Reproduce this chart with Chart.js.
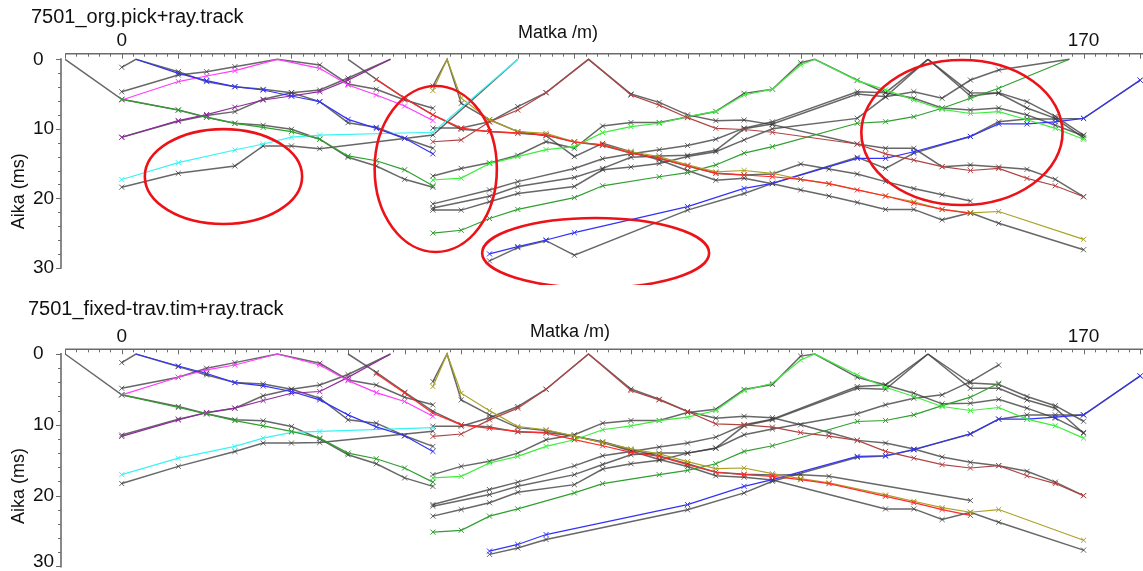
<!DOCTYPE html>
<html>
<head>
<meta charset="utf-8">
<script src="https://cdn.jsdelivr.net/npm/chart.js@4.4.1/dist/chart.umd.min.js"></script>
<style>
  html, body { margin: 0; padding: 0; background: #ffffff; }
  #wrap { position: relative; width: 1143px; height: 571px; overflow: hidden; background: #ffffff; }
  canvas { position: absolute; left: 0; }
  #cTop { top: 0; }
  #cBot { top: 285px; }
</style>
</head>
<body>
<div id="wrap">
  <canvas id="cTop" width="1143" height="285"></canvas>
  <canvas id="cBot" width="1143" height="286"></canvas>
</div>
<script>
// ---- axis labels ----
const distTickLabels = [0, 170];
const timeTickLabels = [0, 10, 20, 30];
const panelTitles = ['7501_org.pick+ray.track', '7501_fixed-trav.tim+ray.track'];
const distTitle = 'Matka /m)';
const timeTitle = 'Aika (ms)';

// ---- travel times, original picks [distance m, time ms] ----
const orgM10Pick = [[0,5.76],[10,7.3],[15,8.35],[20,9.21],[25,9.8],[30,10.4],[35,11.5],[40,13.9],[45,14.6],[50,15.9],[55,18.2]];
const orgM10Calc = [[-10,0],[0,5.76],[10,7.3],[15,8.35],[20,9.21],[25,9.5],[30,10.08],[35,11.5],[40,14.1],[45,15.35],[50,17.27],[55,18.4]];
const org2Pick = [[2.5,0],[10,2.02],[15,3.07],[20,3.94],[25,4.42],[30,5.28],[35,6.1],[40,8.64],[45,9.93],[50,11.37],[55,13.6]];
const org2Calc = [[0,1.15],[2.5,0],[10,1.78],[15,3.22],[20,3.94],[25,4.32],[30,4.8],[35,6.1],[40,9.12],[45,9.79],[50,11.37],[55,12.8]];
const org27Pick = [[0,5.86],[10,3.2],[15,2.4],[20,1.64],[27.5,0],[35,1.3],[40,3.7],[45,5.14],[50,6.72],[55,8.8]];
const org27Calc = [[0,4.66],[10,2.26],[15,1.78],[20,1.06],[27.5,0],[35,0.82],[40,3.55],[45,4.32],[50,5.86],[55,7.05]];
const org47Pick = [[0,11.22],[10,8.83],[15,7.95],[20,6.9],[25,5.86],[30,5.28],[35,4.66],[40,3.0],[47.5,0]];
const org47Calc = [[0,11.22],[10,8.9],[15,8.1],[20,7.53],[25,5.76],[30,4.8],[35,4.42],[40,2.7],[47.5,0]];
const org70Pick = [[0,17.3],[10,14.87],[20,13.05],[25,12.19],[30,11.2],[35,10.9],[55,10.5],[70,0]];
const org70Calc = [[0,18.4],[10,16.4],[20,15.35],[25,12.47],[30,12.47],[35,12.86],[55,10.9],[70,0]];
const org40Pick = [[45,2.9],[50,5.6],[55,8.0],[60,9.9],[65,10.4],[70,10.6],[75,10.9],[80,11.9],[85,12.3],[90,13.5],[95,14.25],[100,15.35],[105,16.4],[110,16.65],[115,16.9],[120,17.27],[125,17.9],[130,18.8],[135,19.67],[140,20.7],[145,21.6],[150,22.16]];
const org40Calc = [[40,0],[45,2.9],[50,5.6],[55,8.0],[60,10.08],[65,10.4],[70,10.65],[75,10.9],[80,11.9],[85,12.4],[90,13.5],[95,14.25],[100,15.35],[105,16.4],[110,16.65],[115,16.5],[120,15.07],[125,15.8],[130,16.5],[135,17.6],[140,18.6],[145,19.5],[150,20.4]];
const org57Pick = [[55,4.5],[57.5,0],[60,5.6],[65,8.7],[70,10.4],[75,10.65],[80,11.86],[85,12.3],[90,13.3],[95,14.0],[100,15.2],[105,16.2],[110,16.0],[115,16.4],[120,17.27],[125,17.9],[135,19.67],[140,20.5],[145,21.6],[150,22.1],[155,21.9],[170,25.9]];
const org57Calc = [[55,3.84],[57.5,0],[60,6.34],[65,8.7],[70,10.4],[75,11.0],[80,14.0],[85,12.1],[90,13.3],[95,14.5],[100,16.0],[105,17.4],[110,17.1],[115,17.9],[120,18.8],[125,19.67],[130,20.6],[135,21.6],[140,21.6],[145,23.1],[150,22.1],[155,23.6],[170,27.4]];
const org82Pick = [[55,11.86],[60,11.6],[65,9.0],[70,7.3],[75,4.8],[82.5,0],[90,5.14],[95,6.6],[100,8.4],[105,9.93],[110,10.1],[115,10.5],[130,12.19],[135,13.6],[140,14.5],[145,15.45],[150,16.0],[155,15.7],[160,17.13],[165,18.2],[170,19.77]];
const org82Calc = [[55,9.9],[60,9.9],[65,9.0],[70,6.8],[75,4.8],[82.5,0],[90,5.0],[95,6.2],[100,8.0],[105,8.83],[110,8.73],[115,9.4],[130,12.19],[135,12.81],[140,12.81],[145,15.45],[150,15.2],[155,15.5],[160,15.83],[165,17.27],[170,19.77]];
const org122Pick = [[55,17.37],[60,17.1],[65,15.0],[70,14.0],[75,13.0],[80,12.57],[85,10.55],[90,9.7],[95,9.2],[100,8.25],[105,7.5],[110,5.13],[115,4.3],[120,0.82],[122.5,0],[130,3.07],[135,4.4],[140,5.86],[145,7.2],[150,7.8],[155,7.53],[160,8.7],[165,9.93],[170,11.5]];
const org122Calc = [[55,16.8],[60,15.7],[65,14.9],[70,13.8],[75,11.85],[80,12.8],[85,9.6],[90,9.1],[95,9.1],[100,8.3],[105,7.5],[110,4.9],[115,4.3],[120,0.5],[122.5,0],[130,3.0],[135,4.8],[140,5.6],[145,7.0],[150,7.3],[155,7.0],[160,8.0],[165,9.5],[170,11.0]];
const org167Pick = [[55,25.0],[60,24.6],[65,22.9],[70,21.6],[80,19.9],[85,18.2],[95,16.9],[100,16.3],[105,15.2],[110,13.5],[115,12.57],[130,9.2],[135,8.98],[140,8.26],[145,7.05],[150,5.6],[155,4.17],[167.5,0]];
const org167Calc = [[55,21.7],[60,21.7],[65,20.5],[70,19.3],[80,18.3],[85,15.9],[90,15.5],[95,15.0],[100,14.0],[105,13.3],[110,11.6],[115,10.0],[130,8.5],[135,5.4],[140,4.66],[145,5.6],[150,2.98],[155,1.54],[167.5,0]];
const org142LeftA = [[55,20.8],[65,18.8],[70,17.6],[80,15.7],[85,14.3],[90,13.6],[95,13.0],[100,12.4],[105,11.5],[110,9.9],[115,9.0],[130,4.66],[135,4.8],[142.5,0]];
const org142LeftB = [[55,21.4],[65,19.7],[70,18.3],[80,17.0],[85,15.7],[90,14.1],[95,13.9],[100,13.8],[105,13.1],[110,10.0],[115,9.3],[130,5.0],[135,5.4],[142.5,0]];
const org142RightA = [[142.5,0],[150,5.28],[155,4.8],[160,6.1],[165,8.2],[170,10.9]];
const org142RightB = [[142.5,0],[150,4.8],[155,4.9],[160,7.0],[165,8.5],[170,11.3]];
const org190Pick = [[65,28.0],[70,26.95],[75,26.0],[80,24.95],[100,21.2],[110,18.57],[115,17.85],[130,14.25],[135,14.25],[140,13.3],[150,11.1],[155,9.3],[160,9.3],[165,9.0],[170,8.5],[180,3.0]];
const org190Calc = [[65,29.0],[70,27.1],[75,26.1],[80,28.2],[100,21.7],[110,19.3],[115,17.85],[130,14.1],[135,15.7],[140,13.5],[150,11.1],[155,9.0],[160,8.6],[165,8.6],[170,8.5],[180,3.0]];

// ---- travel times, corrected picks [distance m, time ms] ----
const fixM10Pick = [[0,5.77],[10,7.56],[15,8.45],[20,9.4],[25,10.14],[30,10.94],[35,11.88],[40,14.0],[45,14.8],[50,16.1],[55,18.1]];
const fixM10Calc = [[-10,0],[0,5.77],[10,7.42],[15,8.45],[20,9.3],[25,9.44],[30,10.23],[35,12.0],[40,14.23],[45,15.5],[50,17.5],[55,18.7]];
const fix2Pick = [[2.5,0],[10,1.7],[15,2.75],[20,4.04],[25,4.5],[30,5.3],[35,6.48],[40,8.6],[45,10.3],[50,11.55],[55,13.76]];
const fix2Calc = [[0,1.22],[2.5,0],[10,1.78],[15,2.96],[20,4.04],[25,4.23],[30,4.98],[35,6.24],[40,9.3],[45,9.77],[50,11.55],[55,13.05]];
const fix27Pick = [[0,5.77],[10,3.29],[15,2.25],[20,1.55],[27.5,0],[35,1.55],[40,3.76],[45,5.45],[50,6.71],[55,8.8]];
const fix27Calc = [[0,4.84],[10,3.29],[15,2.02],[20,1.22],[27.5,0],[35,1.31],[40,3.66],[45,4.37],[50,6.1],[55,7.18]];
const fix47Pick = [[0,11.64],[10,9.3],[15,8.26],[20,7.65],[25,6.57],[30,5.54],[35,5.3],[40,3.3],[47.5,0]];
const fix47Calc = [[0,11.45],[10,9.2],[15,8.3],[20,7.65],[25,5.9],[30,4.98],[35,4.37],[40,2.9],[47.5,0]];
const fix70Pick = [[0,17.04],[10,14.7],[20,13.05],[25,11.88],[30,11.07],[35,10.94],[55,10.4]];
const fix70Calc = [[0,18.3],[10,15.87],[20,13.76],[25,12.58],[30,12.58],[35,12.5],[55,10.9]];
const fix40Pick = [[45,2.8],[50,5.5],[55,8.36],[60,10.0],[65,10.5],[70,10.94],[75,11.17],[80,12.1],[85,12.96],[90,13.9],[95,14.46],[100,15.63],[105,16.7],[110,17.04],[115,17.28],[120,17.75],[125,18.3],[135,20.1],[140,21.0],[145,21.97],[150,22.8]];
const fix40Calc = [[40,0],[45,2.6],[50,5.4],[55,8.1],[60,10.0],[65,10.3],[70,11.0],[75,11.1],[80,11.6],[85,12.4],[90,13.5],[95,14.4],[100,15.5],[105,16.7],[110,17.0],[115,17.1],[120,17.04],[125,17.28],[150,20.7]];
const fix57Pick = [[55,4.6],[57.5,0],[60,5.54],[65,8.0],[70,10.24],[75,10.7],[80,11.6],[85,12.5],[90,13.4],[95,14.1],[100,15.2],[105,16.2],[110,16.1],[115,16.9],[120,17.6],[125,18.2],[135,19.9],[140,20.8],[145,21.7],[150,22.35],[155,21.97],[170,26.3]];
const fix57Calc = [[55,3.9],[57.5,0],[60,6.48],[65,8.6],[70,10.4],[75,10.8],[80,11.6],[85,12.5],[90,13.7],[95,14.9],[100,15.9],[105,17.2],[110,17.4],[115,17.8],[135,21.88],[140,21.88],[145,23.38],[150,22.35],[155,23.76],[170,27.7]];
const fix82Pick = [[55,11.64],[60,11.3],[65,9.3],[70,7.65],[75,4.98],[82.5,0],[90,5.16],[95,6.48],[100,8.12],[105,9.86],[110,10.0],[115,10.33],[120,11.1],[125,11.6],[130,12.2],[135,13.76],[140,14.7],[145,15.63],[150,16.1],[155,15.77],[160,17.2],[165,18.3],[170,20.0]];
const fix82Calc = [[55,10.2],[60,10.2],[65,9.0],[70,7.42],[75,4.98],[82.5,0],[90,4.95],[95,6.4],[100,8.12],[105,9.06],[110,8.8],[115,9.0],[120,10.0],[125,11.1],[130,12.2],[135,12.58],[140,13.43],[145,14.55],[150,15.3],[155,15.77],[160,16.57],[165,18.1],[170,20.0]];
const fix122Pick = [[55,17.5],[60,17.28],[65,15.4],[70,14.46],[75,13.05],[80,12.11],[85,10.7],[90,10.14],[95,9.4],[100,8.92],[105,7.98],[110,5.16],[115,4.13],[120,0.85],[122.5,0],[130,2.96],[135,4.7],[140,6.0],[145,7.42],[150,7.98],[155,7.56],[160,9.2],[165,10.14],[170,11.88]];
const fix122Calc = [[55,17.04],[60,15.87],[65,15.16],[70,14.0],[75,12.11],[80,11.4],[85,9.77],[90,9.4],[95,9.4],[100,8.26],[105,7.8],[110,5.0],[115,4.3],[120,0.3],[122.5,0],[130,3.29],[135,4.37],[140,5.54],[145,7.04],[150,6.95],[155,6.4],[160,7.65],[165,9.06],[170,11.08]];
const fix167Pick = [[55,25.16],[60,24.9],[65,22.9],[70,21.88],[80,19.62],[85,18.3],[95,17.04],[100,16.43],[105,15.5],[110,13.76],[115,12.96],[130,9.53],[135,9.39],[140,8.6],[145,7.3],[150,6.1],[155,4.13]];
const fix167Calc = [[55,22.9],[60,21.97],[65,21.0],[70,19.53],[80,18.45],[85,16.24],[90,15.5],[95,15.0],[100,14.0],[105,13.3],[110,11.4],[115,10.6],[130,8.45],[135,7.18],[140,6.24],[145,5.77],[150,3.9],[155,1.55]];
const fix142LeftA = [[55,21.27],[65,19.15],[70,18.1],[80,15.8],[85,14.37],[90,13.76],[95,13.15],[100,12.58],[105,11.74],[110,10.0],[115,9.2],[130,4.6],[135,4.37],[142.5,0]];
const fix142LeftB = [[55,21.5],[65,19.86],[70,18.69],[80,17.04],[85,15.6],[90,14.23],[95,14.0],[100,14.0],[105,13.29],[110,10.14],[115,9.3],[130,4.84],[135,4.98],[142.5,0]];
const fix142RightA = [[142.5,0],[150,4.84],[155,4.84],[160,6.5],[165,7.65],[170,11.2]];
const fix142RightB = [[142.5,0],[150,4.1],[155,4.3],[160,6.0],[165,7.3],[170,9.5]];
const fix190Pick = [[65,27.84],[70,26.9],[75,25.5],[100,21.27],[110,18.69],[115,17.75],[130,14.46],[135,14.37],[140,13.52],[150,11.27],[155,9.2],[160,9.2],[165,8.92],[170,8.6],[180,3.1]];
const fix190Calc = [[65,28.3],[70,27.4],[75,26.2],[100,22.0],[110,19.62],[115,17.98],[130,14.6],[135,14.4],[140,13.5],[150,11.3],[155,9.2],[160,8.6],[165,8.6],[170,8.6],[180,3.1]];

// ---- line colours ----
const COLORS = {
  calc: 'rgba(60,60,60,0.78)',
  green: '#2f9f2f', lime: '#3ced3c', blue: '#3232f8', magenta: '#ff3cff',
  purple: '#8e2c9c', cyan: '#3cf2f2', red: '#ff2a2a', darkred: '#b04444', olive: '#aaa125'
};

const orgSeries = [
  [orgM10Pick, 'green'], [orgM10Calc, 'calc'], [org2Pick, 'blue'], [org2Calc, 'calc'],
  [org27Pick, 'magenta'], [org27Calc, 'calc'], [org47Pick, 'purple'], [org47Calc, 'calc'],
  [org70Pick, 'cyan'], [org70Calc, 'calc'], [org40Pick, 'red'], [org40Calc, 'calc'],
  [org57Pick, 'olive'], [org57Calc, 'calc'], [org82Pick, 'darkred'], [org82Calc, 'calc'],
  [org122Pick, 'lime'], [org122Calc, 'calc'], [org167Pick, 'green'], [org167Calc, 'calc'],
  [org142LeftA, 'calc'], [org142LeftB, 'calc'], [org142RightA, 'calc'], [org142RightB, 'calc'],
  [org190Pick, 'blue'], [org190Calc, 'calc']
];
const fixSeries = [
  [fixM10Pick, 'green'], [fixM10Calc, 'calc'], [fix2Pick, 'blue'], [fix2Calc, 'calc'],
  [fix27Pick, 'magenta'], [fix27Calc, 'calc'], [fix47Pick, 'purple'], [fix47Calc, 'calc'],
  [fix70Pick, 'cyan'], [fix70Calc, 'calc'], [fix40Pick, 'red'], [fix40Calc, 'calc'],
  [fix57Pick, 'olive'], [fix57Calc, 'calc'], [fix82Pick, 'darkred'], [fix82Calc, 'calc'],
  [fix122Pick, 'lime'], [fix122Calc, 'calc'], [fix167Pick, 'green'], [fix167Calc, 'calc'],
  [fix142LeftA, 'calc'], [fix142LeftB, 'calc'], [fix142RightA, 'calc'], [fix142RightB, 'calc'],
  [fix190Pick, 'blue'], [fix190Calc, 'calc']
];

// marked regions on the first panel: centre (m, ms) and half-axes (m, ms)
const orgMarks = [
  { cx: 17.98, cy: 16.87, rx: 13.9, ry: 6.83 },
  { cx: 55.5, cy: 15.78, rx: 10.8, ry: 11.94 },
  { cx: 83.76, cy: 27.87, rx: 20.06, ry: 5.04 },
  { cx: 148.5, cy: 10.53, rx: 17.78, ry: 10.43 }
];

const X_MIN = -10.735, X_MAX = 179.69;
const FONT = '"Liberation Sans", Arial, Helvetica, sans-serif';

function buildDatasets(series) {
  return series.map(([arr, kind]) => {
    const pick = kind !== 'calc';
    const color = COLORS[kind];
    return {
      data: arr.map(([x, y]) => ({ x, y })),
      showLine: true,
      borderColor: color,
      backgroundColor: color,
      borderWidth: pick ? 1.2 : 1.5,
      pointStyle: 'crossRot',
      pointRadius: c => (c.raw && c.raw.y === 0 ? 0 : 3.6),
      pointHoverRadius: 0,
      pointBorderColor: color,
      pointBorderWidth: 1,
      tension: 0,
      clip: false,
      order: pick ? 0 : 1
    };
  });
}

const framePlugin = {
  id: 'frame',
  beforeDatasetsDraw(chart, args, o) {
    const { ctx } = chart;
    const xs = chart.scales.x, ys = chart.scales.y;
    const a = chart.chartArea;
    ctx.save();
    ctx.fillStyle = '#111';
    ctx.textBaseline = 'middle';

    // panel title
    ctx.font = '20px ' + FONT;
    ctx.textAlign = 'left';
    ctx.fillText(o.title, o.titleX, o.titleY);

    // distance axis along the top
    const axisY = a.top - o.axisGap;
    ctx.strokeStyle = '#6b6b6b';
    ctx.lineWidth = 1.6;
    ctx.beginPath();
    ctx.moveTo(xs.getPixelForValue(-10), axisY);
    ctx.lineTo(chart.width, axisY);
    ctx.stroke();
    ctx.lineWidth = 1;
    for (let v = -10; v <= 180; v += 2) {
      const x = Math.round(xs.getPixelForValue(v)) + 0.5;
      const len = v % 10 === 0 ? 5 : 3;
      ctx.beginPath(); ctx.moveTo(x, axisY); ctx.lineTo(x, axisY + len); ctx.stroke();
    }
    ctx.font = '19px ' + FONT;
    ctx.textAlign = 'center';
    distTickLabels.forEach(v => ctx.fillText(String(v), xs.getPixelForValue(v), axisY - 13));
    ctx.font = '18px ' + FONT;
    ctx.fillText(distTitle, o.distTitleX, axisY - o.distTitleGap);

    // time axis on the left
    const ax = a.left;
    ctx.lineWidth = 1.6;
    ctx.beginPath();
    ctx.moveTo(ax, ys.getPixelForValue(0) - 1);
    ctx.lineTo(ax, Math.min(chart.height, ys.getPixelForValue(30) + 1));
    ctx.stroke();
    ctx.lineWidth = 1;
    for (let v = 0; v <= 30; v += 2) {
      const y = Math.round(ys.getPixelForValue(v)) + 0.5;
      const len = v % 10 === 0 ? 5 : 3;
      ctx.beginPath(); ctx.moveTo(ax, y); ctx.lineTo(ax - len, y); ctx.stroke();
    }
    ctx.font = '19px ' + FONT;
    ctx.textAlign = 'left';
    timeTickLabels.forEach(v => {
      const y = Math.min(ys.getPixelForValue(v), chart.height - 9);
      ctx.fillText(String(v), 33, y);
    });
    ctx.font = '18px ' + FONT;
    ctx.translate(19, ys.getPixelForValue(0) + 132);
    ctx.rotate(-Math.PI / 2);
    ctx.textAlign = 'center';
    ctx.fillText(timeTitle, 0, 0);
    ctx.restore();
  },
  afterDatasetsDraw(chart, args, o) {
    if (!o.marks || !o.marks.length) return;
    const { ctx } = chart;
    const xs = chart.scales.x, ys = chart.scales.y;
    ctx.save();
    ctx.strokeStyle = '#ec1218';
    ctx.lineWidth = 2.6;
    o.marks.forEach(m => {
      const cx = xs.getPixelForValue(m.cx), cy = ys.getPixelForValue(m.cy);
      const rx = Math.abs(xs.getPixelForValue(m.cx + m.rx) - cx);
      const ry = Math.abs(ys.getPixelForValue(m.cy + m.ry) - cy);
      ctx.beginPath();
      ctx.ellipse(cx, cy, rx, ry, 0, 0, Math.PI * 2);
      ctx.stroke();
    });
    ctx.restore();
  }
};

function makePanel(id, series, cfg) {
  return new Chart(document.getElementById(id), {
    type: 'scatter',
    data: { datasets: buildDatasets(series) },
    options: {
      responsive: false,
      animation: false,
      events: [],
      layout: { padding: { left: 61, right: 0, top: cfg.top, bottom: cfg.bottom } },
      plugins: {
        legend: { display: false },
        tooltip: { enabled: false },
        frame: cfg.frame
      },
      scales: {
        x: { type: 'linear', min: X_MIN, max: X_MAX, display: false },
        y: { type: 'linear', min: 0, max: 30, reverse: true, display: false }
      }
    },
    plugins: [framePlugin]
  });
}

makePanel('cTop', orgSeries, {
  top: 59.3, bottom: 285 - 267.8,
  frame: { title: panelTitles[0], titleX: 31, titleY: 17, axisGap: 5.6,
           distTitleX: 558, distTitleGap: 20.7, marks: orgMarks }
});
makePanel('cBot', fixSeries, {
  top: 69, bottom: 286 - 282.6,
  frame: { title: panelTitles[1], titleX: 28, titleY: 24.3, axisGap: 4.7,
           distTitleX: 570, distTitleGap: 17.6, marks: [] }
});
</script>
</body>
</html>
